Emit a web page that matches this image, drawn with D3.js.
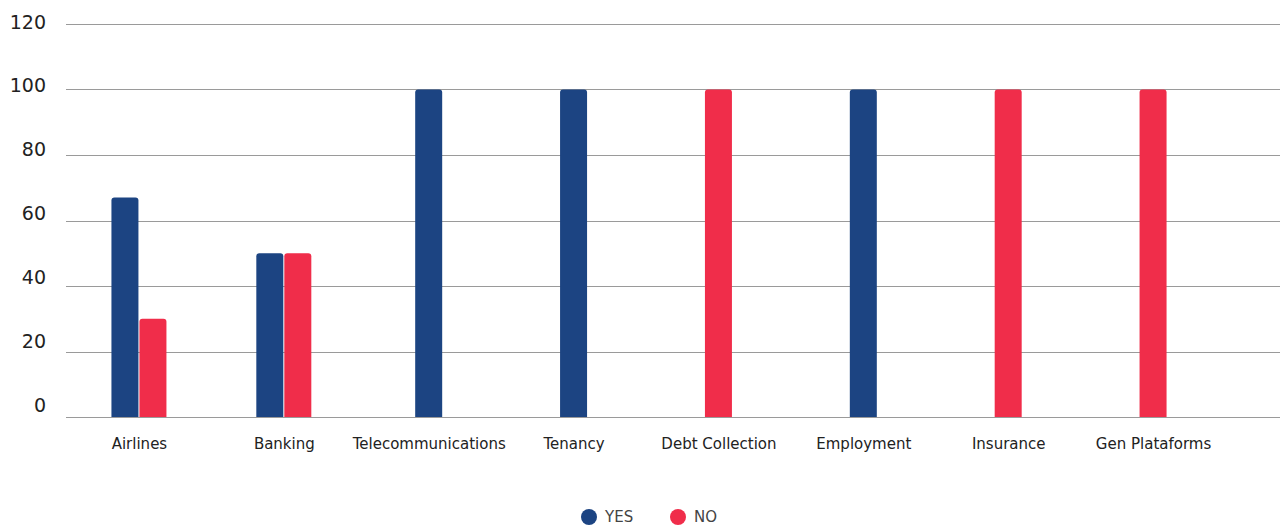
<!DOCTYPE html>
<html>
<head>
<meta charset="utf-8">
<script src="https://cdn.jsdelivr.net/npm/d3@7"></script>
<style>
  body { margin: 0; background: #fff; }
  text { font-family: "DejaVu Sans", "Noto Sans", sans-serif; fill: #222; }
</style>
</head>
<body>
<div id="chart"></div>
<script>
const categories = ["Airlines", "Banking", "Telecommunications", "Tenancy", "Debt Collection", "Employment", "Insurance", "Gen Plataforms"];
const yesValues = [67, 50, 100, 100, 0, 100, 0, 0];
const noValues = [30, 50, 0, 0, 100, 0, 100, 100];
const seriesNames = ["YES", "NO"];
const yTicks = [0, 20, 40, 60, 80, 100, 120];

const colors = {YES: "#1c4482", NO: "#f02d4a"};
const width = 1280, height = 526;

const svg = d3.select("#chart").append("svg")
    .attr("width", width)
    .attr("height", height);

const x = d3.scaleBand()
    .domain(categories)
    .range([67, 1226]);

const y = d3.scaleLinear()
    .domain([0, 120])
    .range([417, 24]);

// tick labels sit a bit above their gridlines in the original
const yLabel = d3.scaleLinear()
    .domain([0, 120])
    .range([405, 22]);

// gridlines
svg.append("g")
    .selectAll("line")
    .data(yTicks)
    .enter().append("line")
    .attr("x1", 66)
    .attr("x2", width)
    .attr("y1", d => Math.round(y(d)) + 0.5)
    .attr("y2", d => Math.round(y(d)) + 0.5)
    .attr("stroke", "#9a9a9a")
    .attr("stroke-width", 1);

svg.append("g")
    .selectAll("text")
    .data(yTicks)
    .enter().append("text")
    .attr("x", 46)
    .attr("y", d => yLabel(d))
    .attr("dy", "0.35em")
    .attr("text-anchor", "end")
    .style("font-size", "19px")
    .text(d => d);

// bars
const barW = 27;
const rows = categories.map((c, i) => ({
    category: c,
    bars: [{s: "YES", v: yesValues[i]}, {s: "NO", v: noValues[i]}].filter(b => b.v > 0)
}));

function topRounded(x0, y0, w, h, r) {
    return "M" + x0 + "," + (y0 + h) +
        "V" + (y0 + r) +
        "Q" + x0 + "," + y0 + " " + (x0 + r) + "," + y0 +
        "H" + (x0 + w - r) +
        "Q" + (x0 + w) + "," + y0 + " " + (x0 + w) + "," + (y0 + r) +
        "V" + (y0 + h) + "Z";
}

const groups = svg.append("g")
    .selectAll("g")
    .data(rows)
    .enter().append("g");

groups.each(function (d) {
    const cx = x(d.category) + x.bandwidth() / 2;
    const inner = d3.scaleBand()
        .domain(d.bars.map(b => b.s))
        .range([cx - d.bars.length * (barW + 1) / 2, cx + d.bars.length * (barW + 1) / 2]);
    d3.select(this).selectAll("path")
        .data(d.bars)
        .enter().append("path")
        .attr("d", b => topRounded(inner(b.s), y(b.v), barW, y(0) - y(b.v), 3))
        .attr("fill", b => colors[b.s]);
});

// category labels
svg.append("g")
    .selectAll("text")
    .data(categories)
    .enter().append("text")
    .attr("x", d => x(d) + x.bandwidth() / 2)
    .attr("y", 444)
    .attr("dy", "0.35em")
    .attr("text-anchor", "middle")
    .style("font-size", "15px")
    .text(d => d);

// legend
const legend = svg.append("g")
    .selectAll("g")
    .data(seriesNames)
    .enter().append("g")
    .attr("transform", (d, i) => "translate(" + (589 + i * 89) + ",517)");

legend.append("circle")
    .attr("r", 8)
    .attr("fill", d => colors[d]);

legend.append("text")
    .attr("x", 16)
    .attr("dy", "0.35em")
    .style("font-size", "15px")
    .style("fill", "#444")
    .text(d => d);
</script>
</body>
</html>
